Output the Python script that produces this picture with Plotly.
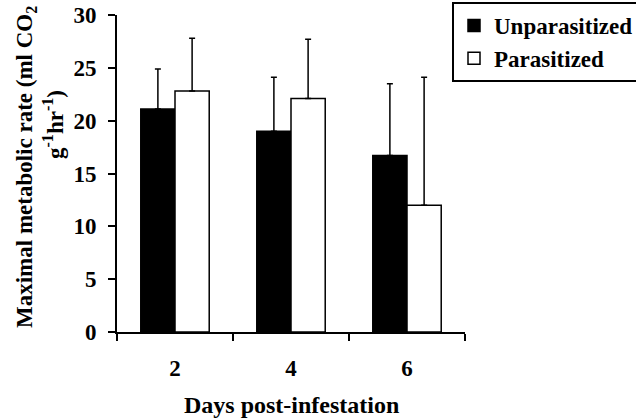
import plotly.graph_objects as go

days = ["2", "4", "6"]
unpar = [21.1, 19.0, 16.7]
unpar_err = [3.8, 5.1, 6.8]
par = [22.8, 22.1, 12.0]
par_err = [5.0, 5.6, 12.1]

FONT = "Liberation Serif, Times New Roman, serif"
FS = 23
TFS = 23

fig = go.Figure()
fig.add_trace(go.Bar(
    x=days, y=unpar, name="Unparasitized",
    marker=dict(color="black", line=dict(color="black", width=1.5)),
    error_y=dict(type="data", array=unpar_err, arrayminus=[0, 0, 0], symmetric=False,
                 color="black", thickness=1.5, width=3),
))
fig.add_trace(go.Bar(
    x=days, y=par, name="Parasitized",
    marker=dict(color="white", line=dict(color="black", width=1.5)),
    error_y=dict(type="data", array=par_err, arrayminus=[0, 0, 0], symmetric=False,
                 color="black", thickness=1.5, width=3),
))

fig.update_layout(
    width=636, height=418,
    margin=dict(l=117, r=171, t=15, b=86, autoexpand=False),
    paper_bgcolor="white", plot_bgcolor="white",
    barmode="group", bargap=0.41, bargroupgap=0,
    font=dict(family=FONT, size=FS, color="black", weight="bold"),
    legend=dict(x=(452 - 117) / 348, y=(332 - 2) / 317, xanchor="left", yanchor="top",
                bordercolor="black", borderwidth=2, bgcolor="white",
                font=dict(family=FONT, size=FS, color="black", weight="bold"),
                tracegroupgap=0, itemwidth=30),
    xaxis=dict(type="category", range=[-0.5, 2.5], tickson="boundaries",
               showline=True, linecolor="black", linewidth=2,
               ticks="outside", ticklen=7, tickwidth=2, tickcolor="black",
               ticklabelstandoff=14,
               tickfont=dict(family=FONT, size=TFS, weight="bold"),
               showgrid=False, zeroline=False),
    yaxis=dict(range=[0, 30], dtick=5, showline=True, linecolor="black", linewidth=2,
               ticks="outside", ticklen=7, tickwidth=2, tickcolor="black",
               ticklabelstandoff=7,
               tickfont=dict(family=FONT, size=TFS, weight="bold"),
               showgrid=False, zeroline=False),
    showlegend=True,
)

fig.add_annotation(text="Days post-infestation", xref="paper", yref="paper",
                   x=0.5, y=(332 - 405) / 317, xanchor="center", yanchor="middle", showarrow=False,
                   font=dict(family=FONT, size=24, weight="bold"))
fig.add_annotation(text="Maximal metabolic rate (ml CO<sub>2</sub>", xref="paper", yref="paper",
                   x=(26 - 117) / 348, y=(332 - 167) / 317, xanchor="center", yanchor="middle",
                   textangle=-90, showarrow=False,
                   font=dict(family=FONT, size=FS, weight="bold"))
fig.add_annotation(text="g<sup>-1</sup>hr<sup>-1</sup>)", xref="paper", yref="paper",
                   x=(54 - 117) / 348, y=(332 - 125) / 317, xanchor="center", yanchor="middle",
                   textangle=-90, showarrow=False,
                   font=dict(family=FONT, size=FS, weight="bold"))

fig.write_html("out.html", config={"displayModeBar": False},
               post_script="document.body.style.margin='0';")
